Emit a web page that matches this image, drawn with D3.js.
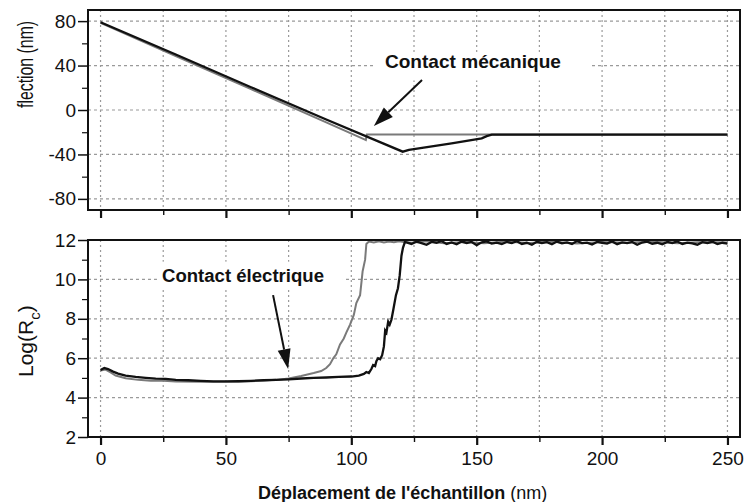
<!DOCTYPE html>
<html>
<head>
<meta charset="utf-8">
<script src="https://cdn.jsdelivr.net/npm/d3@7"></script>
<style>
  body { margin: 0; background: #fff; }
  svg text { font-family: "Liberation Sans", Arial, sans-serif; fill: #111; }
</style>
</head>
<body>
<div id="chart"></div>
<script>
// x ticks (nm)
var xMajor = [0, 50, 100, 150, 200, 250];
var xMinor = [25, 75, 125, 175, 225];
var xGrid = [0, 25, 50, 75, 100, 125, 150, 175, 200, 225, 250];

// top panel: deflection (nm)
var deflMajor = [-80, -40, 0, 40, 80];
var deflMinor = [-60, -20, 20, 60];
var deflBlack = [[0, 79], [30, 50], [60, 20.5], [90, -8.5], [120.5, -37.5], [123, -35.8],
  [140, -30], [152, -25.5], [154, -23.5], [156, -22.2], [250, -22.2]];
var deflGray = [[0, 78.5], [30, 48.5], [60, 18.8], [90, -11.2], [105, -26.2], [105.8, -27],
  [106.2, -22], [156, -22], [250, -22]];

// bottom panel: Log(Rc)
var logMajor = [2, 4, 6, 8, 10, 12];
var logMinor = [3, 5, 7, 9, 11];
var logGrid = [4, 6, 8, 10];
var logBlack = [[0, 5.4], [1.5, 5.5], [3, 5.45], [5, 5.32], [7, 5.22], [10, 5.12], [14, 5.05],
  [18, 5.0], [22, 4.96], [26, 4.95], [30, 4.9], [35, 4.88], [40, 4.85], [45, 4.82], [50, 4.82],
  [55, 4.83], [60, 4.85], [65, 4.88], [70, 4.9], [75, 4.93], [80, 4.97], [85, 5.0], [90, 5.02],
  [95, 5.05], [100, 5.07], [103, 5.12], [105, 5.2], [106, 5.3], [107, 5.25], [108, 5.45],
  [108.7, 5.65], [109.5, 5.6], [110, 5.85], [110.7, 6.0], [111.5, 5.95], [112.3, 6.15],
  [113, 6.6], [113.5, 7.4], [114, 7.3], [114.7, 7.85], [115.3, 7.7], [116, 7.95], [116.8, 8.5],
  [117.8, 9.2], [118.6, 9.55], [119.3, 10.2], [120, 11.2], [120.6, 11.6], [121.4, 11.9],
  [122, 11.88], [124, 11.8], [126, 11.92], [128, 11.84], [130, 11.76], [132, 11.9], [134, 11.86],
  [136, 11.95], [138, 11.8], [140, 11.88], [142, 11.78], [144, 11.92], [146, 11.85], [148, 11.9],
  [150, 11.74], [152, 11.88], [154, 11.93], [156, 11.82], [158, 11.87], [160, 11.79], [162, 11.9],
  [164, 11.84], [166, 11.94], [168, 11.8], [170, 11.86], [172, 11.76], [174, 11.91], [176, 11.85],
  [178, 11.89], [180, 11.78], [182, 11.92], [184, 11.83], [186, 11.88], [188, 11.8], [190, 11.95],
  [192, 11.84], [194, 11.87], [196, 11.77], [198, 11.9], [200, 11.86], [202, 11.82], [204, 11.93],
  [206, 11.79], [208, 11.88], [210, 11.84], [212, 11.9], [214, 11.76], [216, 11.87], [218, 11.92],
  [220, 11.81], [222, 11.86], [224, 11.78], [226, 11.9], [228, 11.85], [230, 11.93], [232, 11.8],
  [234, 11.87], [236, 11.83], [238, 11.76], [240, 11.89], [242, 11.84], [244, 11.91], [246, 11.79],
  [248, 11.86], [250, 11.82]];
var logGray = [[0, 5.38], [2, 5.42], [4, 5.28], [6, 5.12], [10, 4.98], [15, 4.9], [20, 4.86],
  [25, 4.85], [30, 4.82], [40, 4.8], [50, 4.8], [60, 4.83], [70, 4.9], [75, 4.97], [80, 5.1],
  [85, 5.25], [88, 5.35], [90, 5.5], [91.5, 5.7], [92.8, 6.0], [94, 6.2], [95.5, 6.7], [97, 7.0],
  [98, 7.3], [99.5, 7.7], [101, 8.2], [102, 8.8], [103.5, 9.2], [104.5, 10.4], [105.5, 11.0],
  [106, 11.8], [107, 11.92], [109, 11.88], [111, 11.93], [113, 11.87], [115, 11.92], [117, 11.89],
  [119, 11.94], [121, 11.9], [124, 11.86], [130, 11.93], [137, 11.84], [145, 11.9], [153, 11.83],
  [162, 11.92], [171, 11.85], [180, 11.91], [190, 11.82], [200, 11.9], [210, 11.86], [220, 11.93],
  [230, 11.84], [240, 11.9], [250, 11.87]];

var width = 749;
var height = 502;

var svg = d3.select('#chart')
  .append('svg')
  .attr('width', width)
  .attr('height', height);

var x = d3.scaleLinear().domain([-5, 255]).range([88, 740]);
var yTop = d3.scaleLinear().domain([-90, 90]).range([210, 10]);
var yBot = d3.scaleLinear().domain([2, 12]).range([437, 240]);

var fmt = function(d) { return String(d); };

function panel(y, hGrid, major, minor, black, gray, showX) {
  var g = svg.append('g');
  var y0 = y.range()[0], y1 = y.range()[1];

  // grid
  g.selectAll('.vg').data(xGrid).enter().append('line')
    .attr('x1', function(d) { return x(d); }).attr('x2', function(d) { return x(d); })
    .attr('y1', y1).attr('y2', y0)
    .attr('stroke', '#9a9a9a').attr('stroke-width', 1.2).attr('stroke-dasharray', '2,3');
  g.selectAll('.hg').data(hGrid).enter().append('line')
    .attr('x1', x.range()[0]).attr('x2', x.range()[1])
    .attr('y1', function(d) { return y(d); }).attr('y2', function(d) { return y(d); })
    .attr('stroke', '#9a9a9a').attr('stroke-width', 1.2).attr('stroke-dasharray', '3,3');

  var line = d3.line()
    .x(function(d) { return x(d[0]); })
    .y(function(d) { return y(d[1]); });

  g.append('path').datum(gray).attr('d', line)
    .attr('fill', 'none').attr('stroke', '#7a7a7a').attr('stroke-width', 2);
  g.append('path').datum(black).attr('d', line)
    .attr('fill', 'none').attr('stroke', '#111').attr('stroke-width', 2.3);

  // frame
  g.append('rect')
    .attr('x', x.range()[0]).attr('y', y1)
    .attr('width', x.range()[1] - x.range()[0]).attr('height', y0 - y1)
    .attr('fill', 'none').attr('stroke', '#111').attr('stroke-width', 2);

  // y axis
  var ya = g.append('g').attr('transform', 'translate(' + x.range()[0] + ',0)')
    .call(d3.axisLeft(y).tickValues(major).tickSize(10).tickPadding(2).tickFormat(fmt));
  ya.select('.domain').remove();
  ya.selectAll('line').attr('stroke', '#111').attr('stroke-width', 1.5);
  ya.selectAll('text').style('font-size', '19px').style('font-family', '"Liberation Sans", Arial, sans-serif').attr('fill', '#111');

  var ym = g.append('g').attr('transform', 'translate(' + x.range()[0] + ',0)')
    .call(d3.axisLeft(y).tickValues(minor).tickSize(6).tickFormat(''));
  ym.select('.domain').remove();
  ym.selectAll('line').attr('stroke', '#111').attr('stroke-width', 1.2);

  // x axis
  var xa = g.append('g').attr('transform', 'translate(0,' + y0 + ')')
    .call(d3.axisBottom(x).tickValues(xMajor).tickSize(8).tickPadding(7).tickFormat(showX ? fmt : ''));
  xa.select('.domain').remove();
  xa.selectAll('line').attr('stroke', '#111').attr('stroke-width', 2.2);
  xa.selectAll('text').style('font-size', '19px').style('font-family', '"Liberation Sans", Arial, sans-serif').attr('fill', '#111');

  var xm = g.append('g').attr('transform', 'translate(0,' + y0 + ')')
    .call(d3.axisBottom(x).tickValues(xMinor).tickSize(5).tickFormat(''));
  xm.select('.domain').remove();
  xm.selectAll('line').attr('stroke', '#111').attr('stroke-width', 1.4);

  return g;
}

panel(yTop, deflMajor, deflMajor, deflMinor, deflBlack, deflGray, false);
panel(yBot, logGrid, logMajor, logMinor, logBlack, logGray, true);

// annotations
function arrow(x1, y1, x2, y2) {
  var dx = x2 - x1, dy = y2 - y1;
  var len = Math.sqrt(dx * dx + dy * dy);
  var ux = dx / len, uy = dy / len;
  var hl = 20, hw = 6.5;
  var bx = x2 - ux * hl, by = y2 - uy * hl;
  svg.append('line')
    .attr('x1', x1).attr('y1', y1).attr('x2', bx).attr('y2', by)
    .attr('stroke', '#111').attr('stroke-width', 2);
  svg.append('polygon')
    .attr('points', [[x2, y2], [bx - uy * hw, by + ux * hw], [bx + uy * hw, by - ux * hw]].join(' '))
    .attr('fill', '#111');
}

svg.append('rect').attr('x', x(109.5)).attr('y', yTop(50)).attr('width', 215).attr('height', 26).attr('fill', '#fff');
svg.append('text')
  .attr('x', x(113.4)).attr('y', yTop(37.8))
  .attr('textLength', 176).attr('lengthAdjust', 'spacingAndGlyphs')
  .style('font-size', '19px').style('font-weight', 'bold')
  .text('Contact mécanique');
arrow(x(128.2), yTop(27), x(109), yTop(-14.4));

svg.append('rect').attr('x', x(22.5)).attr('y', yBot(10.9)).attr('width', 186).attr('height', 26).attr('fill', '#fff');
svg.append('text')
  .attr('x', x(24.5)).attr('y', yBot(9.87))
  .attr('textLength', 162).attr('lengthAdjust', 'spacingAndGlyphs')
  .style('font-size', '18px').style('font-weight', 'bold')
  .text('Contact électrique');
arrow(x(68.8), yBot(9.2), x(74.8), yBot(5.45));

// axis titles
svg.append('text')
  .attr('transform', 'translate(33,108) rotate(-90) scale(0.72,1)')
  .style('font-size', '22px')
  .text('flection (nm)');

var lt = svg.append('text')
  .attr('transform', 'translate(33,377) rotate(-90)')
  .style('font-size', '21px');
lt.append('tspan').text('Log(R');
lt.append('tspan').attr('dy', 7).style('font-size', '15px').text('c');
lt.append('tspan').attr('dy', -7).text(')');

var xt = svg.append('text')
  .attr('x', 258).attr('y', 499)
  .style('font-size', '18px');
xt.append('tspan').style('font-weight', 'bold').text("Déplacement de l'échantillon ");
xt.append('tspan').text('(nm)');
</script>
</body>
</html>
